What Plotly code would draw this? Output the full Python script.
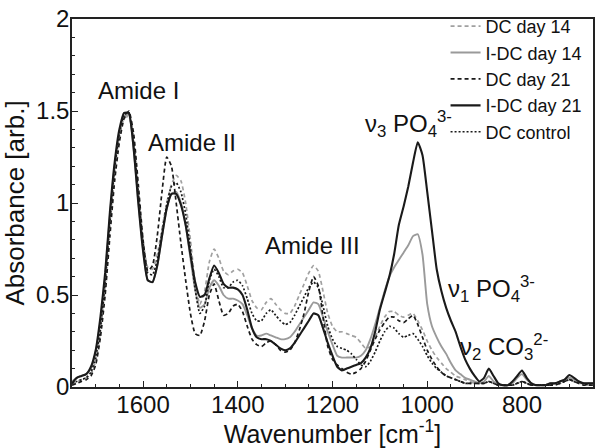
import plotly.graph_objects as go

# wavenumber grid, 1750 -> 650 cm-1 in 10 cm-1 steps
wavenumber = list(range(1750, 649, -10))

dc_day14 = [0.02, 0.03, 0.04, 0.05, 0.07, 0.14, 0.30, 0.55, 0.88, 1.17,
            1.36, 1.46, 1.47, 1.33, 1.06, 0.80, 0.65, 0.64, 0.72, 0.86,
            1.00, 1.10, 1.15, 1.12, 1.00, 0.80, 0.57, 0.45, 0.52, 0.68,
            0.75, 0.70, 0.63, 0.61, 0.63, 0.64, 0.62, 0.55, 0.47, 0.43,
            0.42, 0.46, 0.48, 0.45, 0.42, 0.40, 0.40, 0.44, 0.50, 0.56,
            0.62, 0.66, 0.63, 0.52, 0.40, 0.33, 0.30, 0.30, 0.29, 0.28,
            0.27, 0.24, 0.21, 0.22, 0.27, 0.33, 0.38, 0.41, 0.41, 0.39,
            0.38, 0.39, 0.40, 0.36, 0.31, 0.25, 0.20, 0.16, 0.13, 0.10,
            0.08, 0.06, 0.05, 0.04, 0.03, 0.02, 0.02, 0.02, 0.03, 0.02,
            0.01, 0.01, 0.01, 0.01, 0.02, 0.03, 0.02, 0.01, 0.01, 0.01,
            0.01, 0.01, 0.02, 0.02, 0.03, 0.04, 0.03, 0.02, 0.02, 0.01,
            0.01]

idc_day14 = [0.03, 0.05, 0.06, 0.07, 0.10, 0.19, 0.36, 0.60, 0.93, 1.20,
             1.38, 1.47, 1.48, 1.30, 1.01, 0.75, 0.58, 0.57, 0.66, 0.82,
             0.97, 1.05, 1.06, 1.00, 0.88, 0.70, 0.53, 0.43, 0.45, 0.54,
             0.58, 0.55, 0.50, 0.48, 0.48, 0.47, 0.45, 0.39, 0.32, 0.28,
             0.28, 0.29, 0.28, 0.27, 0.26, 0.26, 0.27, 0.30, 0.34, 0.38,
             0.42, 0.46, 0.45, 0.38, 0.30, 0.23, 0.17, 0.16, 0.16, 0.16,
             0.16, 0.17, 0.20, 0.26, 0.34, 0.43, 0.52, 0.60, 0.65, 0.69,
             0.73, 0.77, 0.82, 0.83, 0.72, 0.45, 0.33, 0.27, 0.22, 0.18,
             0.13, 0.09, 0.07, 0.05, 0.04, 0.03, 0.02, 0.03, 0.06, 0.03,
             0.01, 0.01, 0.01, 0.02, 0.05, 0.07, 0.04, 0.02, 0.01, 0.01,
             0.01, 0.02, 0.02, 0.03, 0.04, 0.05, 0.04, 0.03, 0.02, 0.02,
             0.02]

dc_day21 = [0.01, 0.02, 0.03, 0.04, 0.06, 0.12, 0.27, 0.50, 0.82, 1.12,
            1.33, 1.46, 1.50, 1.38, 1.10, 0.80, 0.63, 0.66, 0.82, 1.06,
            1.25, 1.20, 1.00, 0.78, 0.58, 0.40, 0.29, 0.28, 0.36, 0.50,
            0.56, 0.47, 0.39, 0.40, 0.44, 0.45, 0.41, 0.33, 0.26, 0.23,
            0.22, 0.24, 0.25, 0.23, 0.20, 0.19, 0.20, 0.24, 0.31, 0.40,
            0.52, 0.60, 0.55, 0.38, 0.22, 0.15, 0.12, 0.10, 0.08, 0.07,
            0.08, 0.10, 0.14, 0.20, 0.26, 0.31, 0.35, 0.38, 0.38, 0.36,
            0.35, 0.37, 0.39, 0.34, 0.27, 0.20, 0.15, 0.11, 0.08, 0.06,
            0.05, 0.04, 0.03, 0.02, 0.02, 0.02, 0.02, 0.02, 0.03, 0.02,
            0.01, 0.01, 0.01, 0.01, 0.02, 0.03, 0.02, 0.01, 0.01, 0.01,
            0.01, 0.01, 0.01, 0.02, 0.03, 0.04, 0.03, 0.02, 0.01, 0.01,
            0.01]

idc_day21 = [0.02, 0.05, 0.06, 0.07, 0.11, 0.20, 0.38, 0.62, 0.95, 1.22,
             1.40, 1.49, 1.49, 1.30, 1.00, 0.74, 0.58, 0.57, 0.66, 0.82,
             0.97, 1.05, 1.05, 0.99, 0.88, 0.72, 0.57, 0.49, 0.50, 0.59,
             0.66, 0.62, 0.56, 0.54, 0.54, 0.53, 0.50, 0.42, 0.32, 0.27,
             0.26, 0.26, 0.25, 0.23, 0.21, 0.20, 0.21, 0.24, 0.28, 0.32,
             0.36, 0.40, 0.39, 0.32, 0.24, 0.17, 0.11, 0.09, 0.10, 0.11,
             0.12, 0.13, 0.16, 0.21, 0.30, 0.42, 0.51, 0.60, 0.72, 0.88,
             0.98, 1.09, 1.22, 1.33, 1.26, 1.06, 0.85, 0.64, 0.52, 0.43,
             0.36, 0.30, 0.22, 0.15, 0.10, 0.06, 0.03, 0.05, 0.10, 0.06,
             0.02, 0.01, 0.01, 0.03, 0.06, 0.09, 0.05, 0.02, 0.01, 0.01,
             0.01, 0.02, 0.02, 0.03, 0.04, 0.065, 0.05, 0.03, 0.02, 0.02,
             0.02]

dc_control = [0.02, 0.03, 0.04, 0.05, 0.08, 0.16, 0.32, 0.57, 0.90, 1.19,
              1.38, 1.48, 1.49, 1.33, 1.05, 0.78, 0.62, 0.61, 0.69, 0.84,
              0.99, 1.09, 1.11, 1.06, 0.94, 0.75, 0.53, 0.40, 0.44, 0.58,
              0.64, 0.60, 0.54, 0.54, 0.57, 0.58, 0.55, 0.48, 0.40, 0.36,
              0.36, 0.40, 0.42, 0.39, 0.36, 0.34, 0.35, 0.39, 0.44, 0.49,
              0.54, 0.57, 0.54, 0.44, 0.33, 0.26, 0.22, 0.21, 0.20, 0.18,
              0.15, 0.12, 0.11, 0.14, 0.19, 0.25, 0.30, 0.33, 0.32, 0.29,
              0.27, 0.28, 0.29, 0.26, 0.22, 0.17, 0.13, 0.10, 0.08, 0.06,
              0.05, 0.04, 0.03, 0.02, 0.02, 0.02, 0.02, 0.02, 0.03, 0.02,
              0.01, 0.01, 0.01, 0.01, 0.02, 0.03, 0.02, 0.01, 0.01, 0.01,
              0.01, 0.01, 0.02, 0.02, 0.03, 0.04, 0.03, 0.02, 0.02, 0.01,
              0.01]

series = [
    ("DC day 14", dc_day14, "#a0a0a0", "4px,3px", 1.7),
    ("I-DC day 14", idc_day14, "#9a9a9a", "solid", 1.9),
    ("DC day 21", dc_day21, "#1a1a1a", "4px,3px", 1.7),
    ("I-DC day 21", idc_day21, "#1a1a1a", "solid", 2.1),
    ("DC control", dc_control, "#1a1a1a", "2px,2px", 1.7),
]

FONT = "Liberation Sans, Arial, sans-serif"

fig = go.Figure()
for name, vals, color, dash, width in series:
    fig.add_trace(go.Scatter(
        x=wavenumber, y=vals, name=name, mode="lines",
        line=dict(color=color, dash=dash, width=width, shape="spline", smoothing=0.5),
    ))

# peak labels
labels = [
    (1610, 1.61, "Amide I"),
    (1497, 1.33, "Amide II"),
    (1242, 0.77, "Amide III"),
    (1040, 1.43, "\u03bd<sub>3</sub> PO<sub>4</sub><sup>3-</sup>"),
    (865, 0.53, "\u03bd<sub>1</sub> PO<sub>4</sub><sup>3-</sup>"),
    (838, 0.22, "\u03bd<sub>2</sub> CO<sub>3</sub><sup>2-</sup>"),
]
for x, y, txt in labels:
    fig.add_annotation(x=x, y=y, text=txt, showarrow=False, xanchor="center",
                       font=dict(size=24, color="#111", family=FONT))

axis_common = dict(
    showline=True, linecolor="#222", linewidth=1.5, mirror=True,
    ticks="inside", ticklen=6, tickcolor="#222", showgrid=False, zeroline=False,
    tickfont=dict(size=24, color="#111", family=FONT),
)

fig.update_xaxes(
    range=[1750, 650], tickvals=[1600, 1400, 1200, 1000, 800],
    minor=dict(dtick=50, ticks="inside", ticklen=3, tickcolor="#222"),
    ticklabelstandoff=-5,
    title=dict(text="Wavenumber [cm<sup>-1</sup>]", font=dict(size=25, color="#111", family=FONT), standoff=5),
    **axis_common,
)
fig.update_yaxes(
    range=[0, 2], tickvals=[0, 0.5, 1, 1.5, 2],
    minor=dict(dtick=0.1, ticks="inside", ticklen=3, tickcolor="#222"),
    ticklabelstandoff=-4,
    title=dict(text="Absorbance [arb.]", font=dict(size=26, color="#111", family=FONT), standoff=8),
    **axis_common,
)

fig.update_layout(
    width=600, height=448,
    margin=dict(l=72, r=5, t=14, b=61),
    plot_bgcolor="white", paper_bgcolor="white",
    font=dict(family=FONT, color="#111"),
    showlegend=True,
    legend=dict(x=0.717, y=1.03, xanchor="left", yanchor="top", bgcolor="rgba(0,0,0,0)",
                font=dict(size=18, color="#111", family=FONT), itemwidth=30,
                tracegroupgap=0),
)

# page body has an 8px default margin; drop it so the figure sits at 0,0
fig.write_html("out.html", config={"displayModeBar": False},
               post_script="document.body.style.margin='0';")
